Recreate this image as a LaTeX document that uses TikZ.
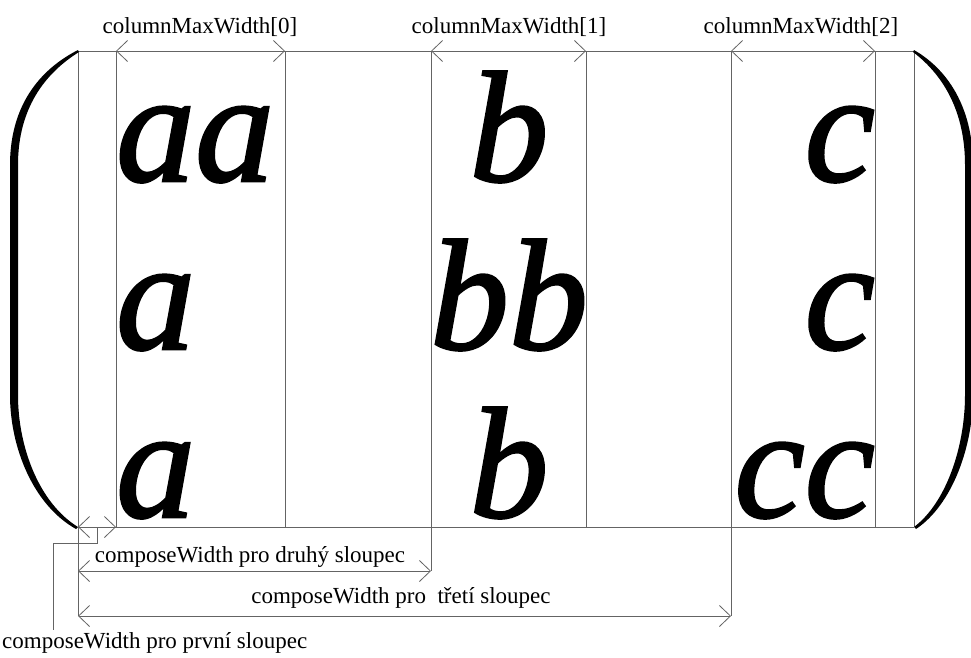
\documentclass[tikz,border=0pt]{standalone}
\usepackage{fontspec}
\setmainfont{Liberation Serif}
\newfontface\entfont{Liberation Serif Italic}[FakeBold=1.6]
\usetikzlibrary{arrows.meta,calc}
\definecolor{linecol}{RGB}{100,100,100}
\tikzset{
  frame/.style={draw=linecol, line width=0.8pt},
  dim/.style={draw=linecol, line width=0.8pt, {Straight Barb[length=11pt,width=21pt]}-{Straight Barb[length=11pt,width=21pt]}},
  lbl/.style={inner sep=0pt, font=\fontsize{23}{27}\selectfont, text=black},
  ent/.style={inner sep=0pt, font=\fontsize{158}{160}\entfont, text=black},
  paren/.style={fill=black, draw=none}
}
\begin{document}
\begin{tikzpicture}[x=1pt, y=-1pt]
\useasboundingbox (0,0) rectangle (971,657);
% grid coordinates
\foreach \n/\xx in {A/78,B/116,C/285,D/431,E/586,F/731,G/875,H/914}{
  \coordinate (t\n) at (\xx,51);
  \coordinate (b\n) at (\xx,527);
}
\coordinate (A2) at (78,571);
\coordinate (D2) at (431,571);
\coordinate (A3) at (78,616);
\coordinate (F3) at (731,616);
\coordinate (k3) at (53,630);
% frame lines
\draw[frame] (tA) -- (tH);
\draw[frame] (bA) -- (bH);
\draw[frame] (tA) -- (A3);
\draw[frame] (tB) -- (bB);
\draw[frame] (tC) -- (bC);
\draw[frame] (tD) -- (D2);
\draw[frame] (tE) -- (bE);
\draw[frame] (tF) -- (F3);
\draw[frame] (tG) -- (bG);
\draw[frame] (tH) -- (bH);
% dimension arrows
\draw[dim] (tB) -- (tC);
\draw[dim] (tD) -- (tE);
\draw[dim] (tF) -- (tG);
\draw[dim] (bA) -- (bB);
\draw[dim] (A2) -- (D2);
\draw[dim] (A3) -- (F3);
% leader
\coordinate (k0) at ($(bA)!0.5!(bB)$);
\draw[frame] (k0) -- ++(0,16) -| (k3);
% parentheses
\fill[paren] (78,50) .. controls (33,73) and (10,113) .. (10,165) -- (10,395)
  .. controls (10,447) and (33,505) .. (76,529) -- (78,527)
  .. controls (39,503) and (18,447) .. (18,395) -- (18,165)
  .. controls (18,115) and (39,77) .. (79,52) -- cycle;
\fill[paren] (914,50) .. controls (952,72) and (973,113) .. (973,165) -- (973,395)
  .. controls (973,447) and (952,505) .. (916,529) -- (914,527)
  .. controls (946,503) and (965,447) .. (965,395) -- (965,165)
  .. controls (965,115) and (946,77) .. (913,52) -- cycle;
% labels
\node[lbl, anchor=base] (m0) at (200,33) {columnMaxWidth[0]};
\node[lbl, anchor=base] (m1) at (509,33) {columnMaxWidth[1]};
\node[lbl, anchor=base] (m2) at (801,33) {columnMaxWidth[2]};
\node[lbl, anchor=base] (cw2) at (250,562) {composeWidth pro druhý sloupec};
\node[lbl, anchor=base] (cw3) at (401,603) {composeWidth pro\ \ třetí sloupec};
\node[lbl, anchor=base west] (cw1) at (2,648) {composeWidth pro první sloupec};
% matrix entries
\node[ent, anchor=base west] (a1) at (116,181) {aa};
\node[ent, anchor=base west] (a2) at (116,349) {a};
\node[ent, anchor=base west] (a3) at (116,517) {a};
\node[ent, anchor=base] (b1) at (509,181) {b};
\node[ent, anchor=base] (b2) at (509,349) {bb};
\node[ent, anchor=base] (b3) at (509,517) {b};
\node[ent, anchor=base east] (c1) at (875,181) {c};
\node[ent, anchor=base east] (c2) at (875,349) {c};
\node[ent, anchor=base east] (c3) at (875,517) {cc};
\end{tikzpicture}
\end{document}
